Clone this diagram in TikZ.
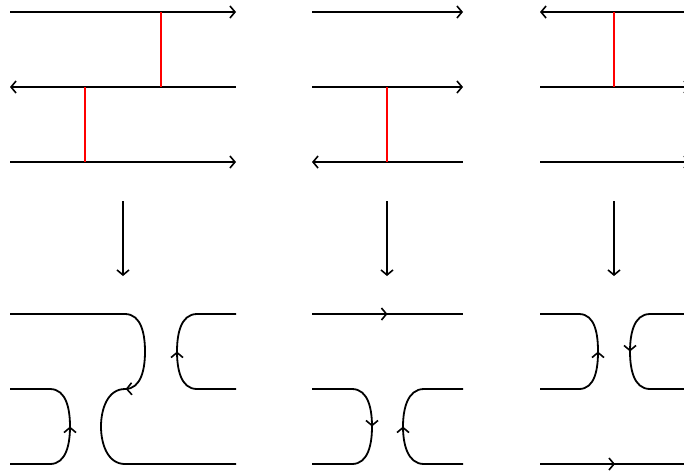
\documentclass[tikz,border=0pt]{standalone}
\usetikzlibrary{arrows.meta,decorations.markings}
\begin{document}
\begin{tikzpicture}[x=1pt,y=-1pt,line width=1.8pt,
  tip/.tip={Straight Barb[length=5pt,width=12pt,line width=1.6pt]},
  strand/.style={draw=black,line width=1.8pt},
  endarrow/.style={strand,-tip},
  startarrow/.style={strand,tip-},
  chord/.style={draw=red,line width=1.8pt},
  midarrow/.style={postaction={decorate},decoration={markings,mark=at position #1 with {\arrow{tip}}}},
  midarrow/.default=0.5]
\useasboundingbox (0,0) rectangle (684,475);
% ---------- panel 1, top ----------
\draw[endarrow] (10,12) -- (236,12);
\draw[startarrow] (10,87) -- (236,87);
\draw[endarrow] (10,162) -- (236,162);
\draw[chord] (161,12) -- (161,87);
\draw[chord] (85,87) -- (85,162);
\draw[endarrow] (123,201) -- (123,276);
% ---------- panel 1, bottom ----------
\draw[strand] (10,314) -- (125,314) to[out=0,in=90] (145,351.5) to[out=-90,in=0] (125,389)
  to[out=180,in=90] (101,426.5) to[out=-90,in=180] (125,464) -- (236,464);
\path[midarrow=0.485] (125,314) to[out=0,in=90] (145,351.5) to[out=-90,in=0] (125,389)
  to[out=180,in=90] (101,426.5) to[out=-90,in=180] (125,464);
\draw[strand,midarrow] (10,464) -- (50,464) to[out=0,in=-90] (70,426.5) to[out=90,in=0] (50,389) -- (10,389);
\draw[strand,midarrow] (236,389) -- (197,389) to[out=180,in=-90] (177,351.5) to[out=90,in=180] (197,314) -- (236,314);
% ---------- panel 2, top ----------
\draw[endarrow] (312,12) -- (463,12);
\draw[endarrow] (312,87) -- (463,87);
\draw[startarrow] (312,162) -- (463,162);
\draw[chord] (387,87) -- (387,162);
\draw[endarrow] (387,201) -- (387,276);
% ---------- panel 2, bottom ----------
\draw[strand,midarrow] (312,314) -- (463,314);
\draw[strand,midarrow] (312,389) -- (352,389) to[out=0,in=90] (372,426.5) to[out=-90,in=0] (352,464) -- (312,464);
\draw[strand,midarrow] (463,464) -- (424,464) to[out=180,in=-90] (403,426.5) to[out=90,in=180] (424,389) -- (463,389);
% ---------- panel 3, top ----------
\draw[startarrow] (540,12) -- (690,12);
\draw[endarrow] (540,87) -- (690,87);
\draw[endarrow] (540,162) -- (690,162);
\draw[chord] (614,12) -- (614,87);
\draw[endarrow] (614,201) -- (614,276);
% ---------- panel 3, bottom ----------
\draw[strand,midarrow] (540,389) -- (579,389) to[out=0,in=-90] (598,351.5) to[out=90,in=0] (579,314) -- (540,314);
\draw[strand,midarrow] (690,314) -- (650,314) to[out=180,in=90] (630,351.5) to[out=-90,in=180] (650,389) -- (690,389);
\draw[strand,midarrow] (540,464) -- (690,464);
\end{tikzpicture}
\end{document}
